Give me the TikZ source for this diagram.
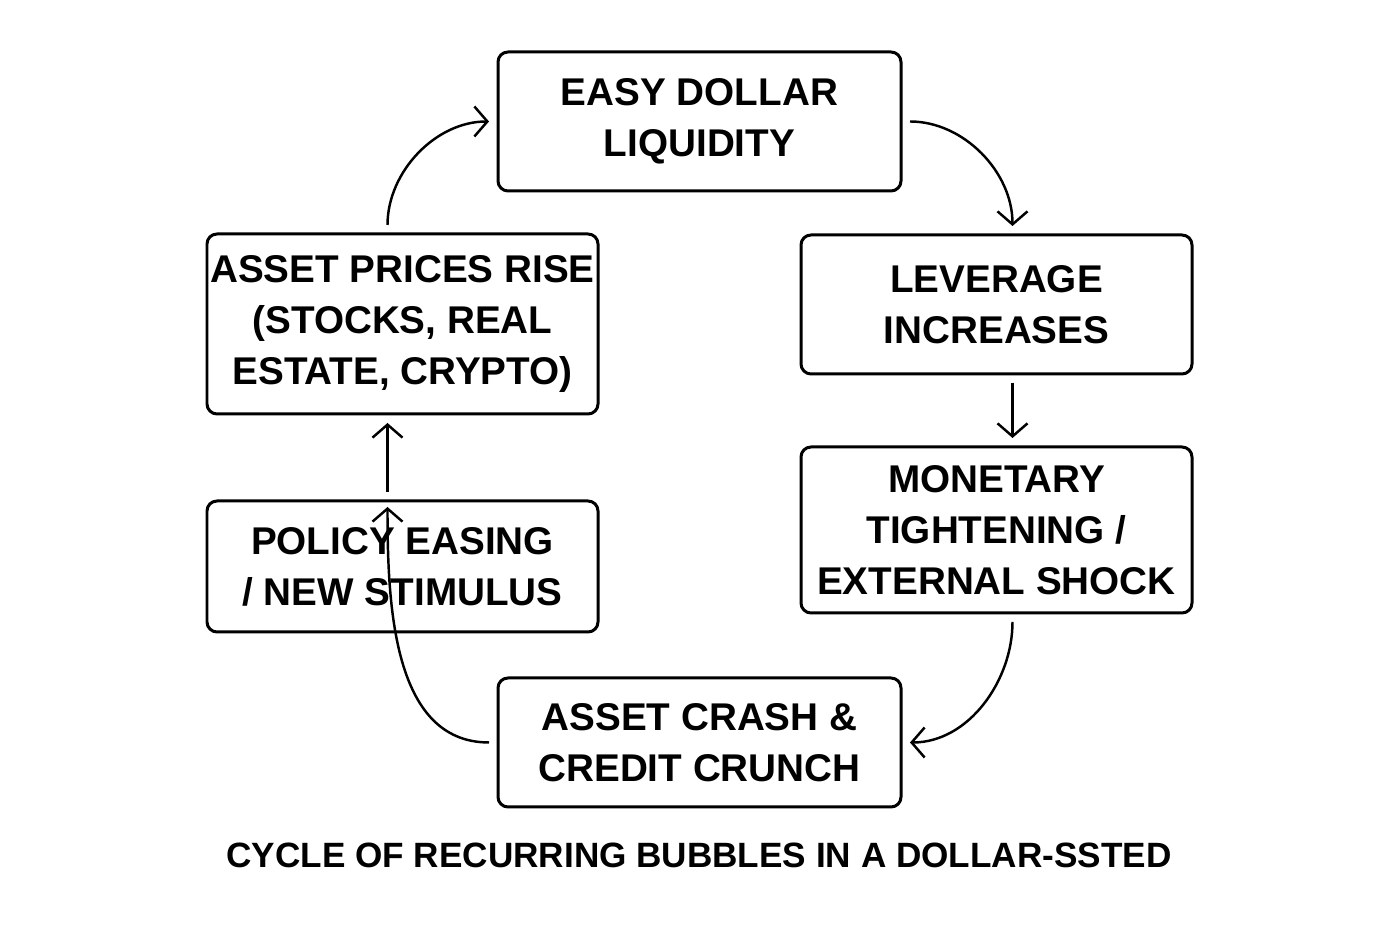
\documentclass[tikz,border=0pt]{standalone}
\usepackage{fontspec}
\setmainfont{Liberation Sans}
\usetikzlibrary{arrows.meta,positioning,calc}

\begin{document}
\begin{tikzpicture}[
  box/.style={rectangle, draw, rounded corners=0.2cm, line width=1.7pt, align=center,
    font=\fontsize{22}{29}\selectfont\bfseries, inner sep=0pt},
  arrow/.style={-{Straight Barb[length=2.6mm,width=6mm]}, line width=1.4pt, shorten <=0.15cm, shorten >=0.15cm}
]
\useasboundingbox (0,0) rectangle (28,18.66);

% Cycle boxes
\node[box, minimum width=8.06cm, minimum height=2.78cm] (easy) at (13.99,16.23) {EASY DOLLAR\\LIQUIDITY};
\node[box, minimum width=7.82cm, minimum height=2.78cm] (lev) at (19.93,12.57) {LEVERAGE\\INCREASES};
\node[box, minimum width=7.82cm, minimum height=3.32cm] (tight) at (19.93,8.06) {MONETARY\\TIGHTENING /\\EXTERNAL SHOCK};
\node[box, minimum width=8.06cm, minimum height=2.58cm] (crash) at (13.99,3.81) {ASSET CRASH \&\\CREDIT CRUNCH};
\node[box, minimum width=7.82cm, minimum height=2.62cm] (policy) at (8.05,7.33) {POLICY EASING\\/ NEW STIMULUS};
\node[box, minimum width=7.82cm, minimum height=3.6cm] (prices) at (8.05,12.18) {ASSET PRICES RISE\\(STOCKS, REAL\\ESTATE, CRYPTO)};

% Title
\node[font=\fontsize{20}{24}\selectfont\bfseries] (title) at (13.98,1.56) {CYCLE OF RECURRING BUBBLES IN A DOLLAR-SSTED};

% Arrows
\draw[arrow] (easy.east) to[out=0,in=90] ($(lev.north)+(0.32,0)$);
\draw[arrow] ($(lev.south)+(0.32,0)$) -- ($(tight.north)+(0.32,0)$);
\draw[arrow] ($(tight.south)+(0.32,0)$) to[out=-90,in=0] (crash.east);
\draw[arrow] (crash.west) to[out=180,in=-90] ($(policy.north)+(-0.3,0)$);
\draw[arrow] ($(policy.north)+(-0.3,0)$) -- ($(prices.south)+(-0.3,0)$);
\draw[arrow] ($(prices.north)+(-0.3,0)$) to[out=90,in=180] (easy.west);

\end{tikzpicture}
\end{document}
